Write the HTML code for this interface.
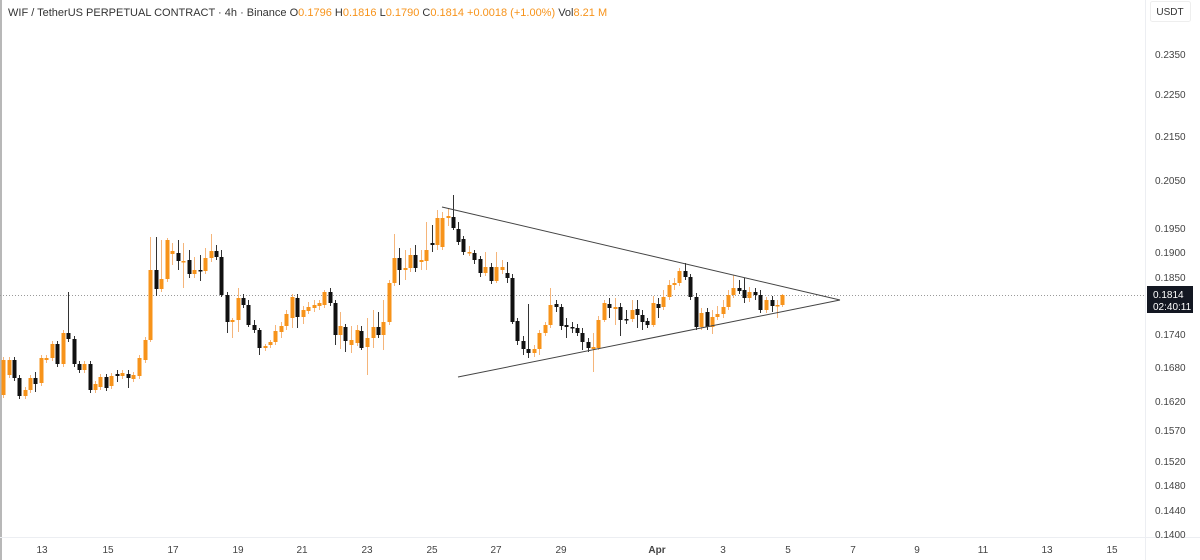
<!DOCTYPE html>
<html><head><meta charset="utf-8"><style>
html,body{margin:0;padding:0;background:#fff;}
svg{display:block;font-family:"Liberation Sans",sans-serif;}
</style></head><body>
<svg id="c" width="1200" height="560" xmlns="http://www.w3.org/2000/svg">
<rect width="1200" height="560" fill="#fff"/>
<rect x="0" y="0" width="2" height="560" fill="#b8b8b8"/>
<line x1="1145.5" y1="0" x2="1145.5" y2="560" stroke="#eceef2"/>
<line x1="0" y1="537.5" x2="1200" y2="537.5" stroke="#eceef2"/>
<line x1="0" y1="295.5" x2="1145" y2="295.5" stroke="#9a9a9a" stroke-dasharray="1,2"/>
<text x="8" y="16" font-size="11" fill="#333">WIF / TetherUS PERPETUAL CONTRACT · 4h · Binance <tspan fill="#333">O</tspan><tspan fill="#f7931a">0.1796</tspan> <tspan fill="#333">H</tspan><tspan fill="#f7931a">0.1816</tspan> <tspan fill="#333">L</tspan><tspan fill="#f7931a">0.1790</tspan> <tspan fill="#333">C</tspan><tspan fill="#f7931a">0.1814 +0.0018 (+1.00%)</tspan> <tspan fill="#333">Vol</tspan><tspan fill="#f7931a">8.21 M</tspan></text>
<rect x="1150.5" y="1.5" width="40" height="20" rx="2" fill="#fff" stroke="#eee"/>
<text x="1170" y="15" font-size="10" fill="#333" text-anchor="middle">USDT</text>
<g id="ax" font-size="10" fill="#444"></g>
<g id="tx" font-size="10" fill="#444" text-anchor="middle"></g>
<g id="cd"></g>
<line x1="442" y1="207" x2="840" y2="300" stroke="#444" stroke-width="1"/>
<line x1="458" y1="377" x2="840" y2="300" stroke="#444" stroke-width="1"/>
<rect x="1147" y="286" width="46" height="27" fill="#131722"/>
<text x="1153" y="298" font-size="10" fill="#fff">0.1814</text>
<text x="1153" y="310" font-size="10" fill="#fff">02:40:11</text>
</svg>
<script>
var ns="http://www.w3.org/2000/svg";
function el(p,t,a,txt){var e=document.createElementNS(ns,t);for(var k in a)e.setAttribute(k,a[k]);if(txt!=null)e.textContent=txt;p.appendChild(e);return e;}
var ax=document.getElementById('ax');
[["0.2350",54],["0.2250",94],["0.2150",136],["0.2050",180],["0.1950",228],["0.1900",252],["0.1850",277],["0.1740",334],["0.1680",367],["0.1620",401],["0.1570",430],["0.1520",461],["0.1480",485],["0.1440",510],["0.1400",534]].forEach(function(a){el(ax,'text',{x:1155,y:a[1]+4},a[0]);});
var tx=document.getElementById('tx');
[["13",42],["15",108],["17",173],["19",238],["21",302],["23",367],["25",432],["27",496],["29",561],["Apr",657],["3",723],["5",788],["7",853],["9",917],["11",983],["13",1047],["15",1112]].forEach(function(a){var t=el(tx,'text',{x:a[1],y:553},a[0]);if(a[0]=="Apr")t.setAttribute('font-weight','bold');});
// x, top, bottom, color(o/b), wickTop, wickBottom
var O='o',B='b';
var d=[
[3,360,395,O],[9,360,375,O],[14,360,378,B],[19,378,396,B],[25,390,396,O],[30,378,390,O],[35,378,384,B,372,392],[41,358,383,O],[46,358,360,O],[52,344,358,O],[57,344,364,B],[63,333,364,O],[68,333,339,B,292,342],[74,339,364,B],[79,364,370,B],[84,364,370,O],[90,364,390,B],[95,384,390,O],[100,377,387,O],[106,377,388,B],[111,376,386,O],[117,374,376,B,370,382],[122,373,376,O],[128,374,378,B,370,388],[133,375,379,O],[139,358,376,O],[145,340,360,O],[150,270,340,O,237,342],[156,270,289,B,237,296],[161,279,289,O,240,292],[167,240,279,O,238,282],[172,251,254,O,243,265],[178,253,261,B,240,270],[183,261,262,O,243,288],[189,260,274,B,250,278],[194,270,274,O,257,278],[200,270,271,B,255,281],[205,258,271,O,248,274],[211,251,258,O,234,262],[216,251,257,B,245,260],[221,257,295,B,250,297],[227,295,322,B,292,333],[232,320,322,O,318,338],[238,298,320,O,288,332],[243,298,305,B,294,308],[248,305,325,B,300,327],[254,325,330,B,320,333],[259,330,348,B,328,355],[265,346,348,O,344,351],[270,342,345,O,340,348],[275,331,342,O,325,345],[281,326,332,O,322,338],[286,314,326,O,310,330],[292,297,318,O,294,328],[297,298,317,B,294,328],[303,310,317,O,306,324],[308,307,311,O,302,314],[314,305,308,O,300,312],[319,303,306,O,300,310],[324,292,305,O,290,308],[330,292,303,B,288,306],[335,303,335,B,300,345],[340,326,335,O,312,349],[345,327,341,B,324,352],[351,340,345,O,326,353],[357,330,343,O,325,346],[361,331,348,B,326,350],[367,338,347,O,318,375],[373,327,338,O,310,348],[378,327,335,B,312,338],[383,322,335,O,300,350],[389,283,322,O,280,325],[394,258,283,O,234,286],[399,258,270,B,248,285],[405,268,270,O,250,280],[410,255,268,O,248,272],[415,255,268,B,245,272],[421,260,262,O,250,270],[426,250,261,O,222,270],[432,243,245,B,225,252],[437,218,245,O,210,250],
[442,218,247,O,212,250],[448,216,218,O,208,226],[453,217,228,B,195,230],[458,229,242,B,222,245],[463,239,252,B,236,255],[469,252,253,O,246,256],[474,253,260,B,250,264],[480,259,273,B,256,277],[485,267,273,O,252,276],[491,267,281,B,263,284],[496,267,281,O,252,283],[502,267,270,O,260,274],[507,273,278,B,262,283],[512,278,322,B,274,324],[517,321,341,B,318,345],[523,341,349,B,336,355],[528,349,353,B,304,358],[534,349,353,O,345,357],[539,333,349,O,330,355],[545,325,333,O,322,336],[550,305,325,O,288,328],[556,304,307,B,300,312],[561,307,326,B,304,330],[566,325,327,B,318,338],[572,327,328,B,322,333],[577,328,333,B,324,336],[582,333,342,B,328,350],[588,342,348,B,338,352],[593,347,349,O,333,372],[598,320,348,O,316,350],[604,303,320,O,300,322],[609,304,308,B,298,318],[615,307,309,O,298,325],[620,307,320,B,303,336],[626,319,320,B,310,324],[632,310,319,O,300,322],[637,309,315,B,300,328],[642,315,322,B,310,330],[647,321,325,B,318,328],[653,303,325,O,296,327],[658,304,308,B,298,318],[663,297,307,O,290,310],[669,285,297,O,280,300],[674,283,285,O,278,290],[679,271,283,O,268,286],[685,271,277,B,263,280],[690,277,297,B,274,300],[696,297,327,B,293,330],[701,313,327,O,308,330],[707,312,327,B,308,330],[712,317,327,O,310,334],[717,314,317,O,306,320],[723,307,314,O,300,318],[728,295,307,O,290,310],[733,288,295,O,275,298],[739,288,291,B,280,294],[744,290,298,B,278,303],[749,292,298,O,287,302],[755,292,295,B,288,300],[760,295,310,B,290,313],[766,300,310,O,297,313],[772,300,306,B,296,312],[777,305,306,O,300,318],[782,295,305,O,294,307]
];
var cd=document.getElementById('cd');
d.forEach(function(c){
 var col=c[3]==O?'#f7931a':'#111';
 var wcol=c[3]==O?'#f5b57a':'#333';
 var wt=c.length>4?c[4]:c[1]-3, wb=c.length>5?c[5]:c[2]+3;
 el(cd,'line',{x1:c[0]+0.5,y1:wt,x2:c[0]+0.5,y2:wb,stroke:wcol,'stroke-width':1});
 var h=Math.max(1.5,c[2]-c[1]);
 el(cd,'rect',{x:c[0]-1.5,y:c[1],width:4,height:h,fill:col});
});
</script>
</body></html>
